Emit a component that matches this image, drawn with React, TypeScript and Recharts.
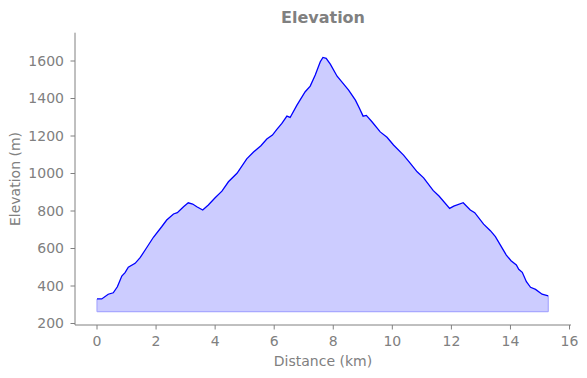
import {
  ComposedChart,
  Area,
  Line,
  XAxis,
  YAxis,
  ReferenceLine,
  Label,
} from "recharts";

// distance along the track (km)
const distanceKm = [
  0.0, 0.16, 0.38, 0.55, 0.69, 0.84, 0.95, 1.06, 1.29, 1.46, 1.68, 1.91, 2.19,
  2.36, 2.59, 2.72, 2.93, 3.09, 3.24, 3.38, 3.58, 3.77, 4.0, 4.23, 4.45, 4.74,
  5.07, 5.3, 5.55, 5.75, 5.94, 6.09, 6.26, 6.43, 6.54, 6.77, 7.05, 7.22, 7.39,
  7.56, 7.65, 7.76, 7.9, 8.13, 8.29, 8.52, 8.75, 8.89, 9.01, 9.12, 9.31, 9.59,
  9.82, 10.04, 10.38, 10.61, 10.84, 11.06, 11.38, 11.58, 11.94, 12.08, 12.4,
  12.64, 12.79, 13.09, 13.32, 13.49, 13.66, 13.86, 14.02, 14.2, 14.28, 14.4,
  14.54, 14.68, 14.85, 15.07, 15.28,
];

// elevation (m)
const elevationM = [
  331, 331, 356, 364, 396, 453, 471, 500, 521, 551, 604, 660, 716, 752, 784,
  791, 823, 844, 837, 823, 805, 832, 871, 906, 956, 1001, 1078, 1115, 1148,
  1184, 1205, 1235, 1267, 1306, 1299, 1365, 1436, 1466, 1525, 1596, 1619, 1614,
  1583, 1519, 1489, 1445, 1391, 1347, 1306, 1310, 1276, 1222, 1193, 1152, 1098,
  1054, 1009, 977, 910, 880, 814, 826, 844, 805, 791, 730, 695, 663, 618, 565,
  535, 512, 489, 473, 423, 393, 382, 356, 347,
];

const xTicks = [0, 2, 4, 6, 8, 10, 12, 14, 16];
const yTicks = [200, 400, 600, 800, 1000, 1200, 1400, 1600];

const fillBase = 263;

const data = distanceKm.map((d, i) => ({ d, elev: elevationM[i] }));

const GRAY = "#808080";
const FONT = "DejaVu Sans, sans-serif";

export default function App() {
  const first = data[0];
  const last = data[data.length - 1];
  return (
    <div style={{ position: "absolute", left: 0, top: 0, width: 587, height: 378, background: "#fff" }}>
      <div
        style={{
          position: "absolute",
          left: 0,
          width: 646,
          top: 8,
          textAlign: "center",
          fontFamily: FONT,
          fontWeight: "bold",
          fontSize: 16,
          color: GRAY,
        }}
      >
        Elevation
      </div>
      <ComposedChart
        width={587}
        height={378}
        data={data}
        margin={{ top: 32.7, right: 16, left: 0, bottom: 0 }}
      >
        <XAxis
          dataKey="d"
          type="number"
          domain={[-0.745, 16.05]}
          ticks={xTicks}
          allowDataOverflow
          height={53}
          stroke={GRAY}
          tickSize={4.5}
          tickMargin={7}
          tick={{ fill: GRAY, fontSize: 14, fontFamily: FONT }}
        >
          <Label
            content={() => (
              <text x={323} y={366} textAnchor="middle" fill={GRAY} fontSize={14} fontFamily={FONT}>
                Distance (km)
              </text>
            )}
          />
        </XAxis>
        <YAxis
          type="number"
          domain={[192, 1751]}
          ticks={yTicks}
          allowDataOverflow
          width={75}
          stroke={GRAY}
          tickSize={4.5}
          tickMargin={6.5}
          tick={{ fill: GRAY, fontSize: 14, fontFamily: FONT }}
        >
          <Label
            content={() => (
              <text
                x={20}
                y={179}
                transform="rotate(-90 20 179)"
                textAnchor="middle"
                fill={GRAY}
                fontSize={14}
                fontFamily={FONT}
              >
                Elevation (m)
              </text>
            )}
          />
        </YAxis>
        <Area
          dataKey="elev"
          type="linear"
          baseValue={fillBase}
          fill="#ccccff"
          fillOpacity={1}
          stroke="none"
          isAnimationActive={false}
        />
        <ReferenceLine
          segment={[{ x: first.d, y: fillBase }, { x: last.d, y: fillBase }]}
          stroke="#a8a8ff"
          strokeWidth={1.2}
        />
        <ReferenceLine
          segment={[{ x: first.d, y: fillBase }, { x: first.d, y: first.elev }]}
          stroke="#a8a8ff"
          strokeWidth={1.2}
        />
        <ReferenceLine
          segment={[{ x: last.d, y: fillBase }, { x: last.d, y: last.elev }]}
          stroke="#a8a8ff"
          strokeWidth={1.2}
        />
        <Line
          dataKey="elev"
          type="linear"
          stroke="#0000ff"
          strokeWidth={1.3}
          dot={false}
          activeDot={false}
          isAnimationActive={false}
        />
      </ComposedChart>
    </div>
  );
}
